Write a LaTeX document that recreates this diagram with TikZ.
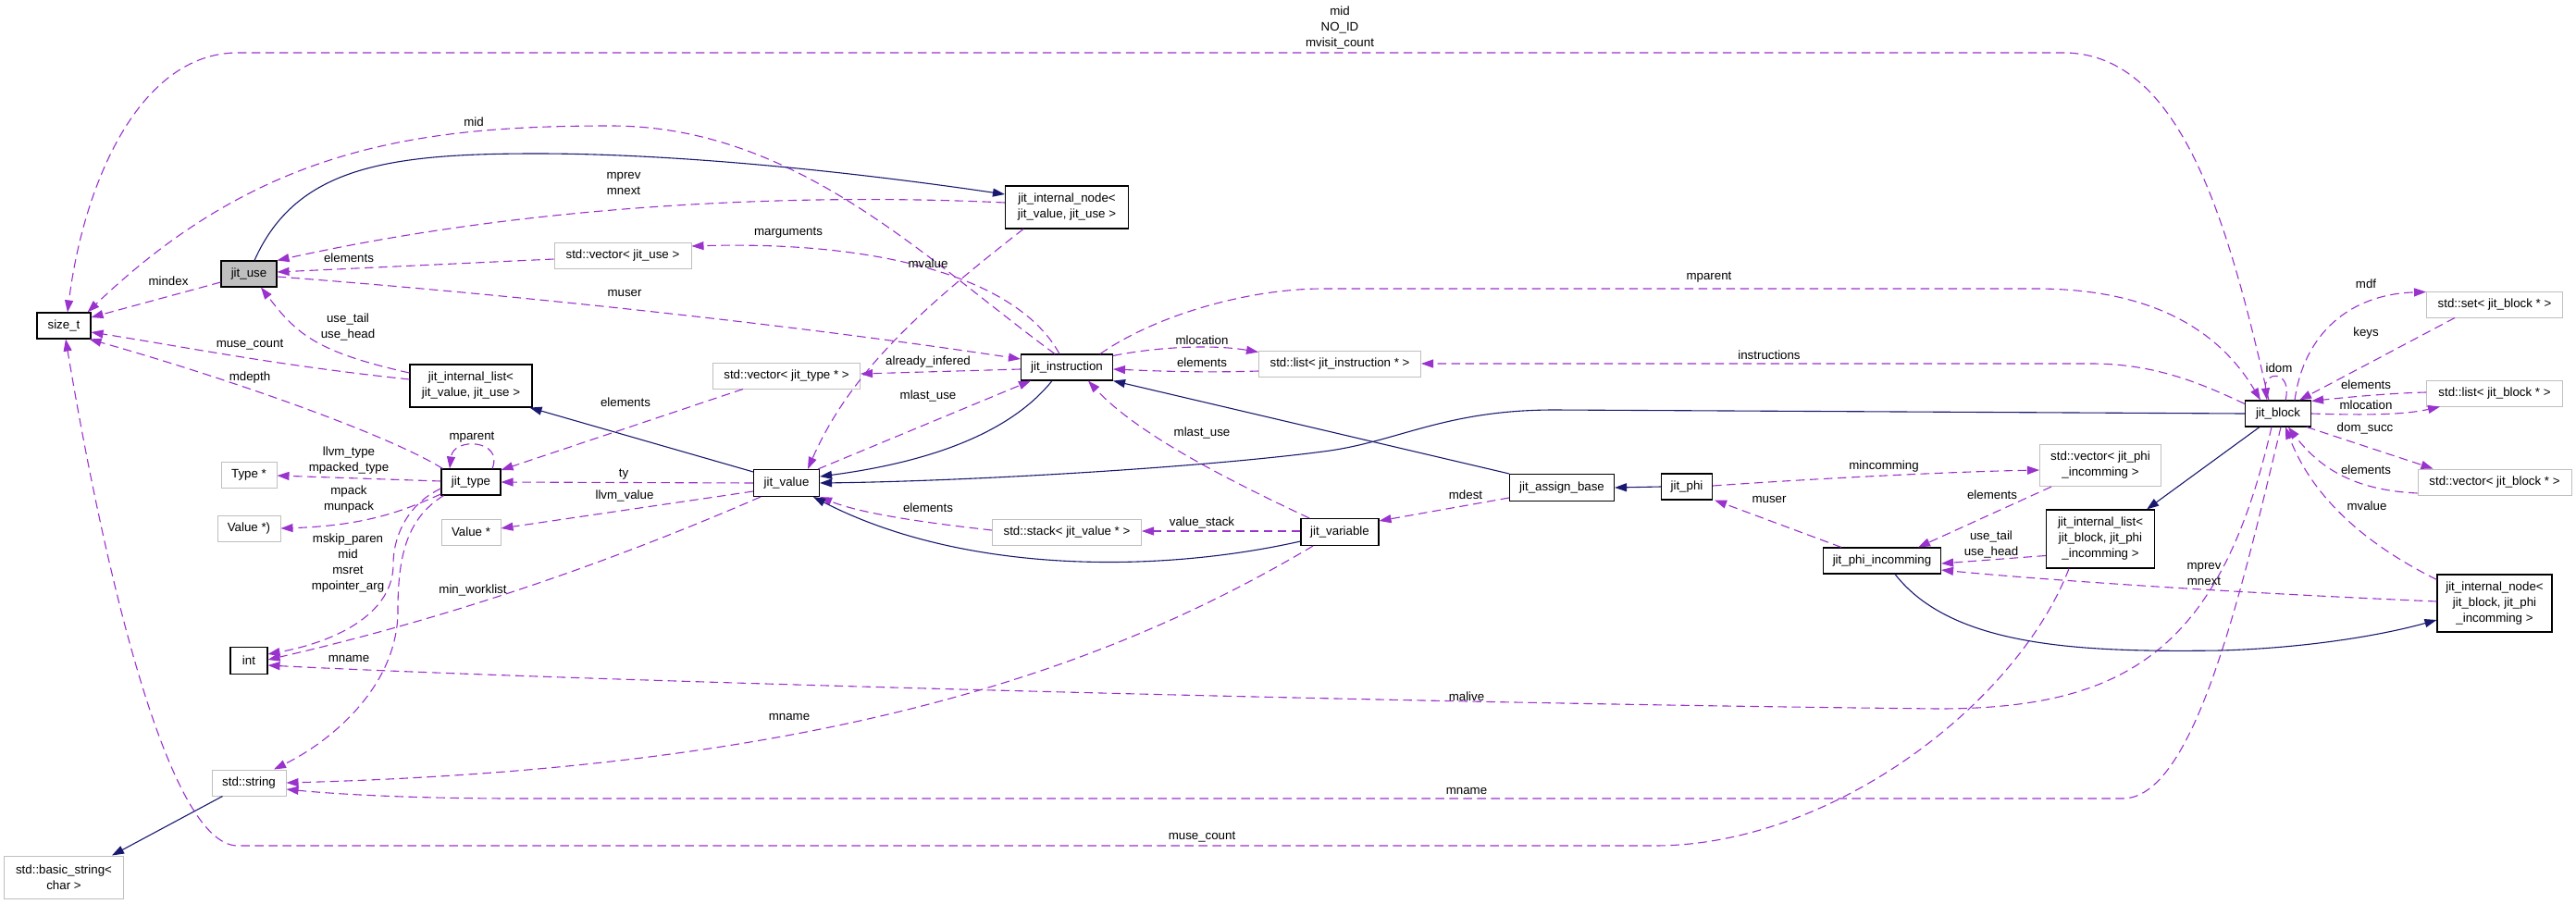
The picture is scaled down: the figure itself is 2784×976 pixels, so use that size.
\documentclass[tikz,border=0pt]{standalone}
\usepackage{fontspec}
\setmainfont{Liberation Sans}
\usetikzlibrary{arrows.meta,calc}
\definecolor{depc}{RGB}{154,50,205}
\definecolor{inhc}{RGB}{25,25,112}
\definecolor{boxg}{RGB}{191,191,191}
\newcommand{\dfs}{\fontsize{13.3bp}{17bp}\selectfont}
\tikzset{
  cls/.style={draw=black, line width=1.1bp, fill=white, font=\dfs, inner sep=0pt, align=center},
  ext/.style={draw=boxg, line width=1bp, fill=white, font=\dfs, inner sep=0pt, align=center},
  dep/.style={draw=depc, line width=1.1bp, dash pattern=on 9.5bp off 5.5bp, -{Triangle[length=13bp,width=9bp]}},
  inh/.style={draw=inhc, line width=1.1bp, -{Triangle[length=13bp,width=9bp]}},
  lbl/.style={font=\dfs, inner sep=0pt, align=center}
}
\begin{document}
\begin{tikzpicture}[x=1bp,y=-1bp]
\useasboundingbox[fill=white] (0,0) rectangle (2784,976);
% nodes
\node[cls, fill=boxg, minimum width=60bp, minimum height=28bp] (jituse) at (269,296) {jit\_use};
\node[cls, minimum width=58bp, minimum height=28bp] (sizet) at (69,352) {size\_t};
\node[cls, minimum width=132bp, minimum height=46bp] (ilist1) at (509,417) {jit\_internal\_list<\\ jit\_value, jit\_use >};
\node[cls, minimum width=64bp, minimum height=28bp] (jittype) at (509,521) {jit\_type};
\node[ext, minimum width=60bp, minimum height=28bp] (typeptr) at (269,513) {Type *};
\node[ext, minimum width=68bp, minimum height=28bp] (valueptrp) at (269,571) {Value *)};
\node[ext, minimum width=64bp, minimum height=28bp] (valueptr) at (509,575) {Value *};
\node[cls, minimum width=40bp, minimum height=29bp] (int) at (269,714) {int};
\node[ext, minimum width=80bp, minimum height=28bp] (stdstring) at (269,846) {std::string};
\node[ext, minimum width=128bp, minimum height=46bp] (basicstring) at (69,948) {std::basic\_string<\\ char >};
\node[ext, minimum width=148bp, minimum height=28bp] (vecuse) at (673,276) {std::vector< jit\_use >};
\node[cls, minimum width=133bp, minimum height=46bp] (inode1) at (1153,224) {jit\_internal\_node<\\ jit\_value, jit\_use >};
\node[ext, minimum width=159bp, minimum height=28bp] (vectype) at (850,406) {std::vector< jit\_type * >};
\node[cls, minimum width=99bp, minimum height=28bp] (jitinstr) at (1153,397) {jit\_instruction};
\node[cls, minimum width=71bp, minimum height=29bp] (jitvalue) at (850,522) {jit\_value};
\node[ext, minimum width=161bp, minimum height=28bp] (stackval) at (1153,575) {std::stack< jit\_value * >};
\node[ext, minimum width=175bp, minimum height=28bp] (listinstr) at (1448,393) {std::list< jit\_instruction * >};
\node[cls, minimum width=113bp, minimum height=29bp] (assign) at (1688,527) {jit\_assign\_base};
\node[cls, minimum width=84bp, minimum height=29bp] (variable) at (1448,575) {jit\_variable};
\node[cls, minimum width=55bp, minimum height=28bp] (phi) at (1823,526) {jit\_phi};
\node[ext, minimum width=131bp, minimum height=45bp] (vecphi) at (2270,503) {std::vector< jit\_phi\\ \_incomming >};
\node[cls, minimum width=127bp, minimum height=28bp] (phiinc) at (2034,606) {jit\_phi\_incomming};
\node[cls, minimum width=117bp, minimum height=63bp] (ilist2) at (2270,582.5) {jit\_internal\_list<\\ jit\_block, jit\_phi\\ \_incomming >};
\node[cls, minimum width=71bp, minimum height=28bp] (block) at (2462,447) {jit\_block};
\node[ext, minimum width=147bp, minimum height=28bp] (setblk) at (2696,329) {std::set< jit\_block * >};
\node[ext, minimum width=147bp, minimum height=28bp] (listblk) at (2696,425) {std::list< jit\_block * >};
\node[ext, minimum width=166bp, minimum height=28bp] (vecblk) at (2696,521) {std::vector< jit\_block * >};
\node[cls, minimum width=124bp, minimum height=62bp] (inode2) at (2696,652) {jit\_internal\_node<\\ jit\_block, jit\_phi\\ \_incomming >};
% edges
\draw[dep] ($(block.north)+(-10,0)$) .. controls (2410,250) and (2360,57) .. (2230,57) -- (257,57) .. controls (150,57) and (90,200) .. ($(sizet.north)+(4,0)$);
\draw[dep] ($(jitinstr.north)+(-13,0)$) .. controls (1000,280) and (860,136) .. (660,136) .. controls (450,136) and (280,160) .. ($(sizet.north east)+(-4,0)$);
\draw[inh] ($(jituse.north)+(6,0)$) .. controls (320,180) and (420,166) .. (580,166) .. controls (750,166) and (950,190) .. ($(inode1.west)+(0,-14)$);
\draw[dep] ($(inode1.west)+(0,-5)$) .. controls (900,210) and (600,215) .. (jituse.north east);
\draw[dep] ($(vecuse.west)+(0,4)$) -- ($(jituse.east)+(0,-2)$);
\draw[dep] ($(jituse.east)+(0,3)$) .. controls (550,318) and (850,350) .. ($(jitinstr.west)+(0,-9)$);
\draw[dep] ($(jituse.west)+(0,9)$) -- ($(sizet.east)+(0,-9)$);
\draw[dep] ($(ilist1.west)+(0,-14)$) .. controls (340,380) and (320,360) .. ($(jituse.south)+(13,0)$);
\draw[dep] ($(ilist1.west)+(0,-7)$) .. controls (300,395) and (200,375) .. ($(sizet.east)+(0,7)$);
\draw[dep] ($(jittype.north west)+(2,0)$) .. controls (420,470) and (250,410) .. ($(sizet.south east)+(-2,0)$);
\draw[dep] ($(ilist2.south)+(-34,0)$) .. controls (2180,760) and (1980,914) .. (1788,914) -- (257,914) .. controls (180,914) and (110,600) .. ($(sizet.south)+(2,0)$);
\draw[dep] ($(jittype.north)+(23,0)$) .. controls (545,475) and (490,472) .. ($(jittype.north)+(-23,0)$);
\draw[dep] ($(jittype.west)+(0,-1)$) -- ($(typeptr.east)+(0,1)$);
\draw[dep] ($(jittype.west)+(0,13)$) .. controls (440,550) and (400,568) .. (valueptrp.east);
\draw[dep] ($(jittype.west)+(0,7)$) .. controls (440,545) and (425,580) .. (425,610) .. controls (425,660) and (370,692) .. ($(int.east)+(0,-7)$);
\draw[dep] ($(jittype.south west)+(3,0)$) .. controls (440,560) and (430,600) .. (430,660) .. controls (430,740) and (360,800) .. ($(stdstring.north)+(27,0)$);
\draw[dep] ($(jitvalue.south west)+(8,0)$) .. controls (700,590) and (520,660) .. ($(int.east)+(0,-1)$);
\draw[dep] ($(block.south)+(-7,0)$) .. controls (2400,700) and (2300,766) .. (2095,766) .. controls (1500,760) and (600,735) .. ($(int.east)+(0,5)$);
\draw[dep] ($(block.south)+(3,0)$) .. controls (2420,650) and (2370,863) .. (2294,863) -- (560,863) .. controls (430,863) and (350,857) .. ($(stdstring.east)+(0,7)$);
\draw[dep] ($(variable.south)+(-29,0)$) .. controls (1200,720) and (900,830) .. (stdstring.east);
\draw[dep] (jitvalue.west) -- (jittype.east);
\draw[dep] ($(vectype.south west)+(33,0)$) -- ($(jittype.east)+(0,-13)$);
\draw[dep] ($(jitvalue.west)+(0,9)$) -- ($(valueptr.east)+(0,-4)$);
\draw[inh] ($(jitvalue.north west)+(0,3)$) -- ($(ilist1.south east)+(-3,0)$);
\draw[dep] ($(jitinstr.west)+(0,2)$) -- ($(vectype.east)+(0,-2)$);
\draw[dep] ($(jitvalue.north east)+(-2,0)$) -- ($(jitinstr.south)+(-39,0)$);
\draw[dep] ($(inode1.south)+(-47,0)$) .. controls (1000,330) and (920,400) .. ($(jitvalue.north)+(23,0)$);
\draw[inh] ($(jitinstr.south)+(-16,0)$) .. controls (1090,470) and (1000,500) .. ($(jitvalue.east)+(0,-7)$);
\draw[inh] (block.west) -- (1680,443) .. controls (1560,443) and (1510,478) .. (1430,488) .. controls (1300,505) and (1050,520) .. (jitvalue.east);
\draw[dep] ($(stackval.west)+(0,-2)$) .. controls (1000,565) and (930,555) .. (jitvalue.south east);
\draw[inh] ($(variable.west)+(0,10)$) .. controls (1250,620) and (1040,620) .. ($(jitvalue.south)+(29,0)$);
\draw[dep] ($(jitinstr.north east)+(0,2)$) .. controls (1250,375) and (1310,372) .. ($(listinstr.north west)+(0,2)$);
\draw[dep] ($(listinstr.west)+(0,8)$) .. controls (1300,403) and (1250,401) .. ($(jitinstr.east)+(0,2)$);
\draw[dep] ($(block.north west)+(0,4)$) .. controls (2380,415) and (2330,393) .. (2260,393) -- (listinstr.east);
\draw[dep] ($(jitinstr.north)+(36,0)$) .. controls (1250,340) and (1350,312) .. (1430,312) -- (2200,312) .. controls (2330,312) and (2400,360) .. ($(block.north)+(-19,0)$);
\draw[dep] ($(block.north)+(8,0)$) .. controls (2478,400) and (2446,400) .. ($(block.north)+(-12,0)$);
\draw[dep] ($(block.north)+(18,0)$) .. controls (2490,360) and (2540,318) .. ($(setblk.north west)+(0,1)$);
\draw[dep] ($(setblk.south)+(-43,0)$) -- ($(block.north east)+(-13,0)$);
\draw[dep] ($(listblk.west)+(0,-1)$) .. controls (2580,425) and (2530,430) .. ($(block.north east)+(0,1)$);
\draw[dep] (block.east) .. controls (2560,449) and (2600,448) .. ($(listblk.south west)+(15,0)$);
\draw[dep] ($(block.south east)+(-5,0)$) -- ($(vecblk.north west)+(17,0)$);
\draw[dep] ($(vecblk.west)+(0,12)$) .. controls (2550,530) and (2510,510) .. ($(block.south)+(11,0)$);
\draw[dep] ($(inode2.north west)+(0,6)$) .. controls (2560,590) and (2500,540) .. ($(block.south)+(8,0)$);
\draw[inh] ($(phiinc.south)+(14,0)$) .. controls (2110,700) and (2250,705) .. (2400,703) .. controls (2500,700) and (2580,685) .. ($(inode2.west)+(0,18)$);
\draw[inh] ($(block.south west)+(16,0)$) -- ($(ilist2.north east)+(-9,0)$);
\draw[dep] ($(inode2.west)+(0,-2)$) .. controls (2400,640) and (2200,626) .. ($(phiinc.east)+(0,10)$);
\draw[dep] ($(ilist2.west)+(0,18)$) -- ($(phiinc.east)+(0,3)$);
\draw[dep] ($(vecphi.south west)+(13,0)$) -- ($(phiinc.north)+(39,0)$);
\draw[dep] ($(phi.east)+(0,-1)$) .. controls (1950,518) and (2100,510) .. ($(vecphi.west)+(0,5)$);
\draw[dep] ($(phiinc.north)+(-44,0)$) -- ($(phi.south east)+(2,0)$);
\draw[inh] (phi.west) -- (assign.east);
\draw[inh] (assign.north west) -- (jitinstr.south east);
\draw[dep] ($(assign.west)+(0,11)$) -- ($(variable.north east)+(0,3)$);
\draw[dep] ($(variable.west)+(0,-1)$) -- ($(stackval.east)+(0,-1)$);
\draw[dep] ($(variable.north)+(-33,0)$) .. controls (1330,520) and (1230,470) .. ($(jitinstr.south)+(23,0)$);
\draw[inh] ($(stdstring.south west)+(12,0)$) -- ($(basicstring.north)+(52,0)$);
\draw[dep] ($(jitinstr.north)+(-8,0)$) .. controls (1100,300) and (950,260) .. ($(vecuse.east)+(0,-10)$);
% labels
\node[lbl] (l1) at (1448,30) {mid\\NO\_ID\\mvisit\_count};
\node[lbl] (l2) at (512,132) {mid};
\node[lbl] (l3) at (674,198) {mprev\\mnext};
\node[lbl] (l4) at (852,252) {marguments};
\node[lbl] (l5) at (377,279) {elements};
\node[lbl] (l6) at (1003,285) {mvalue};
\node[lbl] (l7) at (182,304) {mindex};
\node[lbl] (l8) at (675,317) {muser};
\node[lbl] (l9) at (1847,300) {mparent};
\node[lbl] (l10) at (2557,307) {mdf};
\node[lbl] (l11) at (376,353) {use\_tail\\use\_head};
\node[lbl] (l12) at (2557,360) {keys};
\node[lbl] (l13) at (1299,368) {mlocation};
\node[lbl] (l14) at (270,373) {muse\_count};
\node[lbl] (l15) at (1912,384) {instructions};
\node[lbl] (l16) at (1003,391) {already\_infered};
\node[lbl] (l17) at (1299,392) {elements};
\node[lbl] (l18) at (2463,398) {idom};
\node[lbl] (l19) at (270,408) {mdepth};
\node[lbl] (l20) at (2557,416) {elements};
\node[lbl] (l21) at (2557,438) {mlocation};
\node[lbl] (l22) at (676,435) {elements};
\node[lbl] (l23) at (1003,428) {mlast\_use};
\node[lbl] (l24) at (2556,463) {dom\_succ};
\node[lbl] (l25) at (1299,468) {mlast\_use};
\node[lbl] (l26) at (510,473) {mparent};
\node[lbl] (l27) at (377,498) {llvm\_type\\mpacked\_type};
\node[lbl] (l28) at (674,513) {ty};
\node[lbl] (l29) at (2036,504) {mincomming};
\node[lbl] (l30) at (2557,508) {elements};
\node[lbl] (l31) at (2153,535) {elements};
\node[lbl] (l32) at (377,540) {mpack\\munpack};
\node[lbl] (l33) at (1584,535) {mdest};
\node[lbl] (l34) at (675,536) {llvm\_value};
\node[lbl] (l35) at (1912,540) {muser};
\node[lbl] (l36) at (2558,547) {mvalue};
\node[lbl] (l37) at (1003,549) {elements};
\node[lbl] (l38) at (1299,565) {value\_stack};
\node[lbl] (l39) at (2152,588) {use\_tail\\use\_head};
\node[lbl] (l40) at (376,609) {mskip\_paren\\mid\\msret\\mpointer\_arg};
\node[lbl] (l41) at (2382,620) {mprev\\mnext};
\node[lbl] (l42) at (511,638) {min\_worklist};
\node[lbl] (l43) at (377,712) {mname};
\node[lbl] (l44) at (1585,753) {malive};
\node[lbl] (l45) at (853,775) {mname};
\node[lbl] (l46) at (1585,855) {mname};
\node[lbl] (l47) at (1299,905) {muse\_count};
\end{tikzpicture}
\end{document}
